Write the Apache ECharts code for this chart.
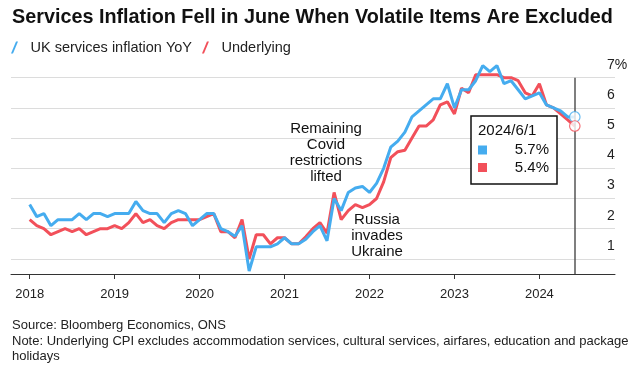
<!DOCTYPE html>
<html><head><meta charset="utf-8">
<script src="https://cdn.jsdelivr.net/npm/echarts@6/dist/echarts.min.js"></script>
<style>html,body{margin:0;padding:0;background:#fff}#c{width:639px;height:372px}</style>
</head><body><div id="c"></div>
<script>
// Monthly data, Jan 2018 .. Jun 2024
const startYear = 2018;
const services = [
  2.8,2.4,2.5,2.1,2.3,2.3,2.3,2.5,2.3,2.5,2.5,2.4,
  2.5,2.5,2.5,2.9,2.6,2.5,2.5,2.2,2.5,2.6,2.5,2.1,
  2.3,2.5,2.5,2.0,1.9,1.75,2.1,0.6,1.4,1.4,1.4,1.5,
  1.7,1.5,1.5,1.65,1.9,2.1,1.6,3.0,2.6,3.2,3.35,3.4,
  3.2,3.5,4.0,4.7,4.9,5.2,5.7,5.9,6.1,6.3,6.3,6.8,
  6.0,6.6,6.6,6.9,7.4,7.2,7.4,6.8,6.9,6.6,6.3,6.4,
  6.5,6.1,6.0,5.9,5.7,5.7
];
const underlying = [
  2.3,2.1,2.0,1.8,1.9,2.0,1.9,2.0,1.8,1.9,2.0,2.0,
  2.1,2.0,2.2,2.5,2.2,2.3,2.1,2.0,2.2,2.3,2.3,2.3,
  2.3,2.4,2.5,1.9,1.9,1.7,2.3,1.0,1.8,1.8,1.5,1.7,
  1.7,1.5,1.5,1.73,2.0,2.2,1.85,3.2,2.3,2.6,2.8,2.7,
  2.8,3.0,3.55,4.35,4.55,4.6,5.0,5.4,5.4,5.6,6.1,6.2,
  5.8,6.65,6.5,7.1,7.1,7.1,7.1,7.0,7.0,6.9,6.5,6.4,
  6.8,6.1,6.0,5.8,5.6,5.4
];
const seriesNames = ['UK services inflation YoY', 'Underlying'];
const yTicks = [1, 2, 3, 4, 5, 6, 7];
const xTicks = [2018, 2019, 2020, 2021, 2022, 2023, 2024];
const annotations = [
  { text: 'Remaining\nCovid\nrestrictions\nlifted', x: 326, y: 121 },
  { text: 'Russia\ninvades\nUkraine', x: 377, y: 212 }
];

const BLUE = '#45acef', RED = '#f2505a';
const xOf = i => startYear + i / 12;
const sData = services.map((v, i) => [xOf(i), v]);
const uData = underlying.map((v, i) => [xOf(i), v]);
const last = services.length - 1;
const lastX = xOf(last);
const lastYear = startYear + Math.floor(last / 12);
const lastMonth = (last % 12) + 1;
const lastLabel = lastYear + '/' + lastMonth + '/1';

const chart = echarts.init(document.getElementById('c'), null, { renderer: 'canvas' });
const FONT = 'Liberation Sans';

chart.setOption({
  animation: false,
  backgroundColor: '#fff',
  title: {
    text: 'Services Inflation Fell in June When Volatile Items Are Excluded',
    left: 12, top: 8, padding: 0,
    textStyle: { fontFamily: FONT, fontWeight: 'bold', fontSize: 19.8, color: '#111' }
  },
  legend: {
    left: 6, top: 35,
    itemWidth: 16, itemHeight: 12, itemGap: 10,
    icon: 'path://M0,12 L5,0 L7,0 L2,12 Z',
    textStyle: { fontFamily: FONT, fontSize: 14.5, color: '#222', padding: [0, 0, 0, 3] },
    data: [
      { name: seriesNames[0], itemStyle: { color: BLUE } },
      { name: seriesNames[1], itemStyle: { color: RED } }
    ]
  },
  grid: { left: 11, right: 24, top: 62.6, bottom: 98, containLabel: false },
  xAxis: {
    type: 'value', min: 2017.78, max: 2024.89,
    axisLine: { show: true, lineStyle: { color: '#333', width: 1 } },
    axisTick: { show: true, length: 5, customValues: xTicks, lineStyle: { color: '#333' } },
    axisLabel: { customValues: xTicks, margin: 14, fontFamily: FONT, fontSize: 13, color: '#222',
      formatter: v => String(Math.round(v)) },
    splitLine: { show: false }
  },
  yAxis: {
    type: 'value', min: 0.5, max: 7.5, position: 'right',
    axisLine: { show: false },
    axisTick: { show: false, customValues: yTicks },
    axisLabel: { customValues: yTicks, inside: false, margin: -8, align: 'left', verticalAlign: 'bottom',
      padding: [0, 0, 6, 0], fontFamily: FONT, fontSize: 14, color: '#222',
      formatter: v => (v === 7 ? v + '%' : String(v)) },
    splitLine: { show: true, lineStyle: { color: '#dcdcdc', width: 1 } }
  },
  series: [
    {
      name: seriesNames[1], type: 'line', data: uData, showSymbol: false, symbol: 'none',
      lineStyle: { color: RED, width: 3 }, itemStyle: { color: RED }, z: 2
    },
    {
      name: seriesNames[0], type: 'line', data: sData, showSymbol: false, symbol: 'none',
      lineStyle: { color: BLUE, width: 3 }, itemStyle: { color: BLUE }, z: 3,
      markLine: {
        silent: true, symbol: 'none', label: { show: false },
        lineStyle: { color: '#555', width: 1.5, type: 'solid' },
        data: [[{ coord: [lastX, 7] }, { coord: [lastX, 0.5] }]]
      }
    },
    {
      type: 'scatter', z: 5, symbol: 'circle', symbolSize: 10.5,
      data: [
        { value: [lastX, services[last]], itemStyle: { color: '#fff', borderColor: BLUE, borderWidth: 1.2 } },
        { value: [lastX, underlying[last]], itemStyle: { color: '#fff', borderColor: RED, borderWidth: 1.2 } }
      ]
    }
  ],
  graphic: [
    ...annotations.map(a => ({
      type: 'text', z: 10,
      style: { text: a.text, x: a.x, y: a.y, align: 'center', verticalAlign: 'top',
        fontFamily: FONT, fontSize: 15, lineHeight: 16, fill: '#111' }
    })),
    { type: 'rect', z: 20, shape: { x: 471, y: 116, width: 86, height: 68 },
      style: { fill: '#fff', stroke: '#111', lineWidth: 1.5 } },
    { type: 'text', z: 21, style: { text: lastLabel, x: 478, y: 131, verticalAlign: 'middle',
      fontFamily: FONT, fontSize: 15, fill: '#111' } },
    { type: 'rect', z: 21, shape: { x: 478, y: 145.5, width: 9, height: 9 }, style: { fill: BLUE } },
    { type: 'rect', z: 21, shape: { x: 478, y: 163, width: 9, height: 9 }, style: { fill: RED } },
    { type: 'text', z: 21, style: { text: services[last].toFixed(1) + '%', x: 549, y: 150, align: 'right',
      verticalAlign: 'middle', fontFamily: FONT, fontSize: 15, fill: '#111' } },
    { type: 'text', z: 21, style: { text: underlying[last].toFixed(1) + '%', x: 549, y: 167.5, align: 'right',
      verticalAlign: 'middle', fontFamily: FONT, fontSize: 15, fill: '#111' } },
    { type: 'text', z: 10, style: { text: 'Source: Bloomberg Economics, ONS\nNote: Underlying CPI excludes accommodation services, cultural services, airfares, education and package\nholidays',
      x: 12, y: 318, verticalAlign: 'top', fontFamily: FONT, fontSize: 13, lineHeight: 15.5, fill: '#222' } }
  ]
});
</script>
</body></html>
